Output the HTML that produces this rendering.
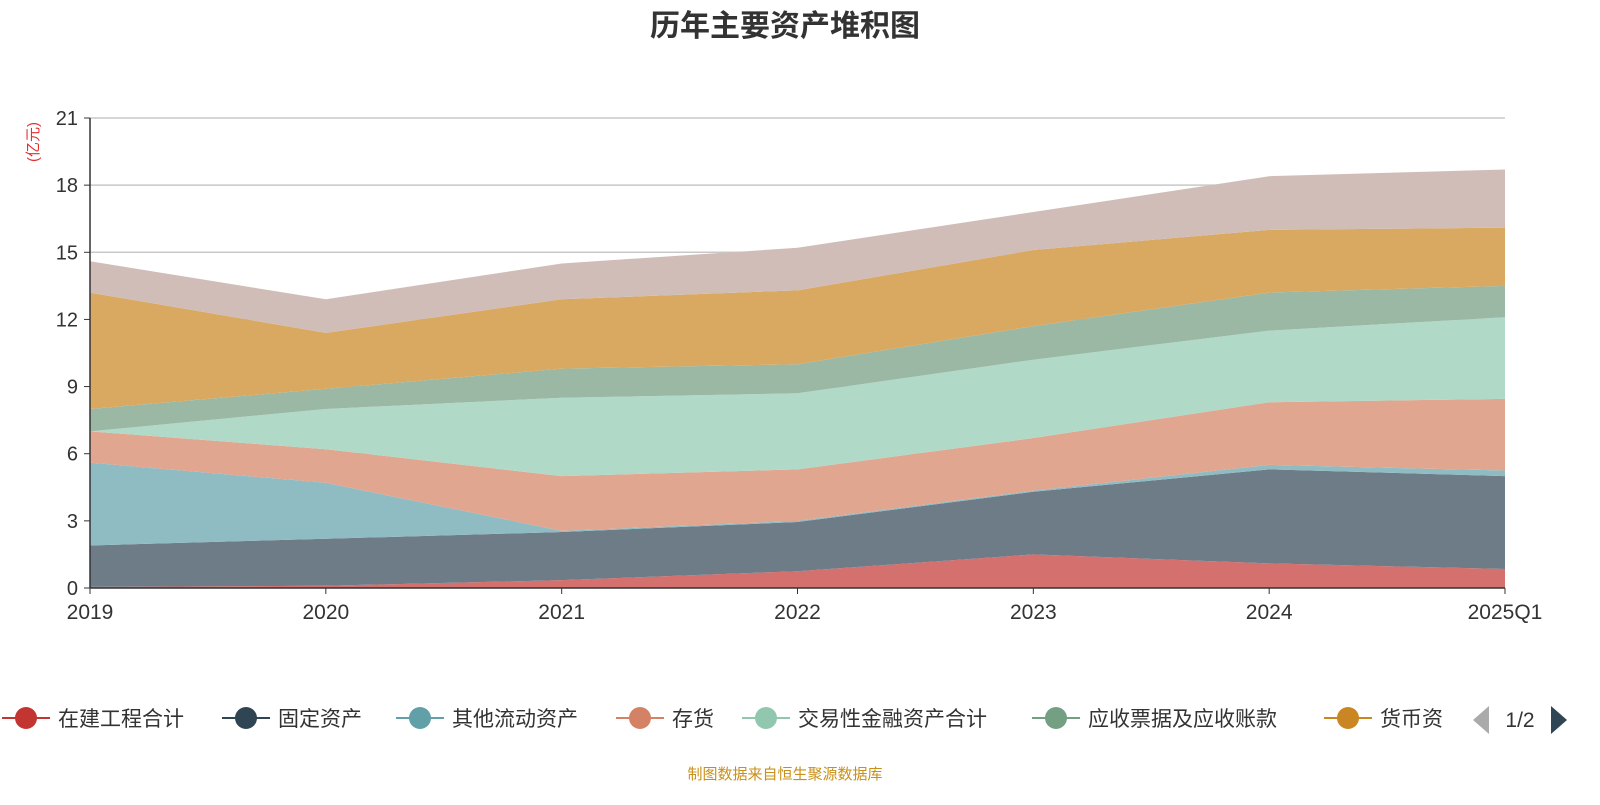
<!DOCTYPE html>
<html><head><meta charset="utf-8"><style>
body{margin:0;background:#fff;font-family:"Liberation Sans","Noto Sans CJK SC",sans-serif;}
</style></head><body>
<svg id="c" width="1600" height="800" xmlns="http://www.w3.org/2000/svg">
<text x="785" y="36" text-anchor="middle" font-size="30" font-weight="bold" fill="#333" font-family="Liberation Sans,Noto Sans CJK SC,sans-serif">历年主要资产堆积图</text>
<text x="0" y="0" transform="translate(38,142) rotate(-90)" text-anchor="middle" font-size="15" fill="#e03030" font-family="Liberation Sans,Noto Sans CJK SC,sans-serif">(亿元)</text>
<g id="grid"></g><g id="areas"></g><g id="axes"></g><g id="legend"></g>
<text x="785" y="779" text-anchor="middle" font-size="15" fill="#c8901a" font-family="Liberation Sans,Noto Sans CJK SC,sans-serif">制图数据来自恒生聚源数据库</text>
</svg>
<script>
const categories=["2019","2020","2021","2022","2023","2024","2025Q1"];
const yTicks=[0,3,6,9,12,15,18,21];
const seriesNames=["在建工程合计","固定资产","其他流动资产","存货","交易性金融资产合计","应收票据及应收账款","货币资金","其他"];
const s0=[0.05,0.1,0.35,0.75,1.5,1.1,0.85];
const s1=[1.85,2.1,2.15,2.2,2.8,4.2,4.15];
const s2=[3.7,2.5,0.05,0.05,0.05,0.2,0.25];
const s3=[1.4,1.5,2.45,2.3,2.35,2.8,3.2];
const s4=[0.0,1.8,3.5,3.4,3.5,3.2,3.65];
const s5=[1.0,0.9,1.3,1.3,1.5,1.7,1.4];
const s6=[5.2,2.5,3.1,3.3,3.4,2.8,2.6];
const s7=[1.4,1.5,1.6,1.9,1.7,2.4,2.6];
const series=[s0,s1,s2,s3,s4,s5,s6,s7];
const fills=["#d4706d","#6e7c88","#8fbbc3","#e0a690","#b1d9c7","#9bb8a4","#d9a961","#d1bdb7"];
const legendColors=["#c23531","#2f4554","#61a0a8","#d48265","#91c7ae","#749f83","#ca8622"];
const NS="http://www.w3.org/2000/svg";
const X0=90,X1=1505,Y0=588,Y1=118,YMAX=21;
const xs=i=>X0+(X1-X0)*i/(categories.length-1);
const ys=v=>Y0-(Y0-Y1)*v/YMAX;
function mk(t,a,p){const e=document.createElementNS(NS,t);for(const k in a)e.setAttribute(k,a[k]);p.appendChild(e);return e;}
const grid=document.getElementById('grid'),areas=document.getElementById('areas'),axes=document.getElementById('axes'),leg=document.getElementById('legend');
yTicks.forEach(t=>{
 if(t>0){const l=mk('line',{x1:X0,x2:X1,y1:ys(t),y2:ys(t),stroke:'#c8c8c8','stroke-width':1.5},grid);
 
 }
 const tx=mk('text',{x:X0-12,y:ys(t)+7,'text-anchor':'end','font-size':20,fill:'#333'},axes);tx.textContent=t;
 
 
 mk('line',{x1:X0-6,x2:X0,y1:ys(t),y2:ys(t),stroke:'#333'},axes);
});
let base=categories.map(()=>0);
series.forEach((s,k)=>{
 const top=base.map((b,i)=>b+s[i]);
 let d='M'+top.map((v,i)=>xs(i)+','+ys(v)).join(' L');
 for(let i=categories.length-1;i>=0;i--)d+=' L'+xs(i)+','+ys(base[i]);
 const p=mk('path',{d:d+'Z',fill:fills[k]},areas);
 
 
 base=top;
});
mk('line',{x1:X0,x2:X0,y1:Y1,y2:Y0,stroke:'#333','stroke-width':1.5},axes);
mk('line',{x1:X0,x2:X1,y1:Y0,y2:Y0,stroke:'#333','stroke-width':1.5},axes);
categories.forEach((c,i)=>{
 mk('line',{x1:xs(i),x2:xs(i),y1:Y0,y2:Y0+6,stroke:'#333'},axes);
 const t=mk('text',{x:xs(i),y:Y0+31,'text-anchor':'middle','font-size':21,fill:'#333'},axes);t.textContent=c;
 
 
});
const lx=[2,222,396,616,742,1032,1324];
seriesNames.slice(0,7).forEach((n,k)=>{
 const g=mk('g',{},leg);
 
 
 const x=lx[k];
 mk('line',{x1:x,x2:x+48,y1:718,y2:718,stroke:legendColors[k],'stroke-width':2},g);
 mk('circle',{cx:x+24,cy:718,r:11,fill:legendColors[k]},g);
 const t=mk('text',{x:x+56,y:726,'font-size':21,fill:'#333'},g);t.textContent=k==6?'货币资':n;
});
const pg=mk('g',{},leg);


mk('path',{d:'M1489,706 L1473,720 L1489,734Z',fill:'#aaa'},pg);
const pt=mk('text',{x:1520,y:727,'text-anchor':'middle','font-size':21,fill:'#333'},pg);pt.textContent='1/2';
mk('path',{d:'M1551,706 L1567,720 L1551,734Z',fill:'#2f4554'},pg);
</script>
</body></html>
